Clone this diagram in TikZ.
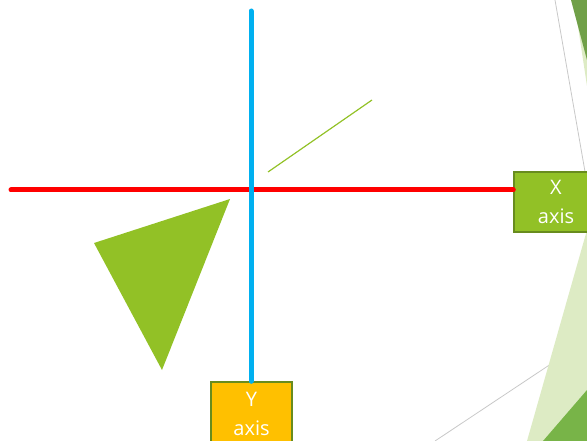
\documentclass[tikz,border=0pt]{standalone}
\usepackage{fontspec}
\setmainfont{Open Sans}
\definecolor{lime}{RGB}{146,193,38}
\definecolor{limeborder}{RGB}{104,140,30}
\definecolor{gold}{RGB}{255,192,0}
\definecolor{skyblue}{RGB}{0,176,240}
\definecolor{pale}{RGB}{221,235,196}
\definecolor{darkgreen}{RGB}{112,160,72}
\definecolor{midgreen}{RGB}{120,180,72}
\definecolor{greyline}{RGB}{200,200,200}
\tikzset{
  axisbox/.style={draw=limeborder, line width=1.4pt, text=white, align=center,
    font=\fontsize{20}{29}\selectfont, inner sep=0pt},
  axisline/.style={line width=5pt, line cap=round},
}
\begin{document}
\begin{tikzpicture}[x=1pt,y=-1pt]
\useasboundingbox (0,0) rectangle (587,441);
\clip (0,0) rectangle (587,441);
% decorative background
\draw[greyline, line width=0.8pt] (555,0) -- (587,183);
\draw[greyline, line width=0.8pt] (435,441) -- (587,340);
\fill[pale] (574,0) -- (587,0) -- (587,86) -- cycle;
\fill[darkgreen] (571,0) -- (587,0) -- (587,60) -- cycle;
\fill[pale] (587,230) -- (587,441) -- (527,441) -- cycle;
\fill[midgreen] (587,390) -- (587,441) -- (543,441) -- cycle;
% triangle and thin line
\fill[lime] (94,243) -- (230,199) -- (162,370) -- cycle;
\coordinate (ls) at (268,172);
\coordinate (le) at (372,100);
\draw[lime, line width=1.2pt] (ls) -- (le);
% boxes
\node[axisbox, fill=lime, minimum width=84pt, minimum height=60pt] (xbox) at (556,202) {X\\axis};
\node[axisbox, fill=gold, minimum width=81pt, minimum height=64pt] (ybox) at (251.5,414) {Y\\axis};
% axes
\coordinate (xstart) at (11,190);
\coordinate (ystart) at (251,11);
\draw[axisline, red] (xstart) -- (xstart -| xbox.west);
\draw[axisline, skyblue] (ystart) -- (ystart |- ybox.north);
\end{tikzpicture}
\end{document}
